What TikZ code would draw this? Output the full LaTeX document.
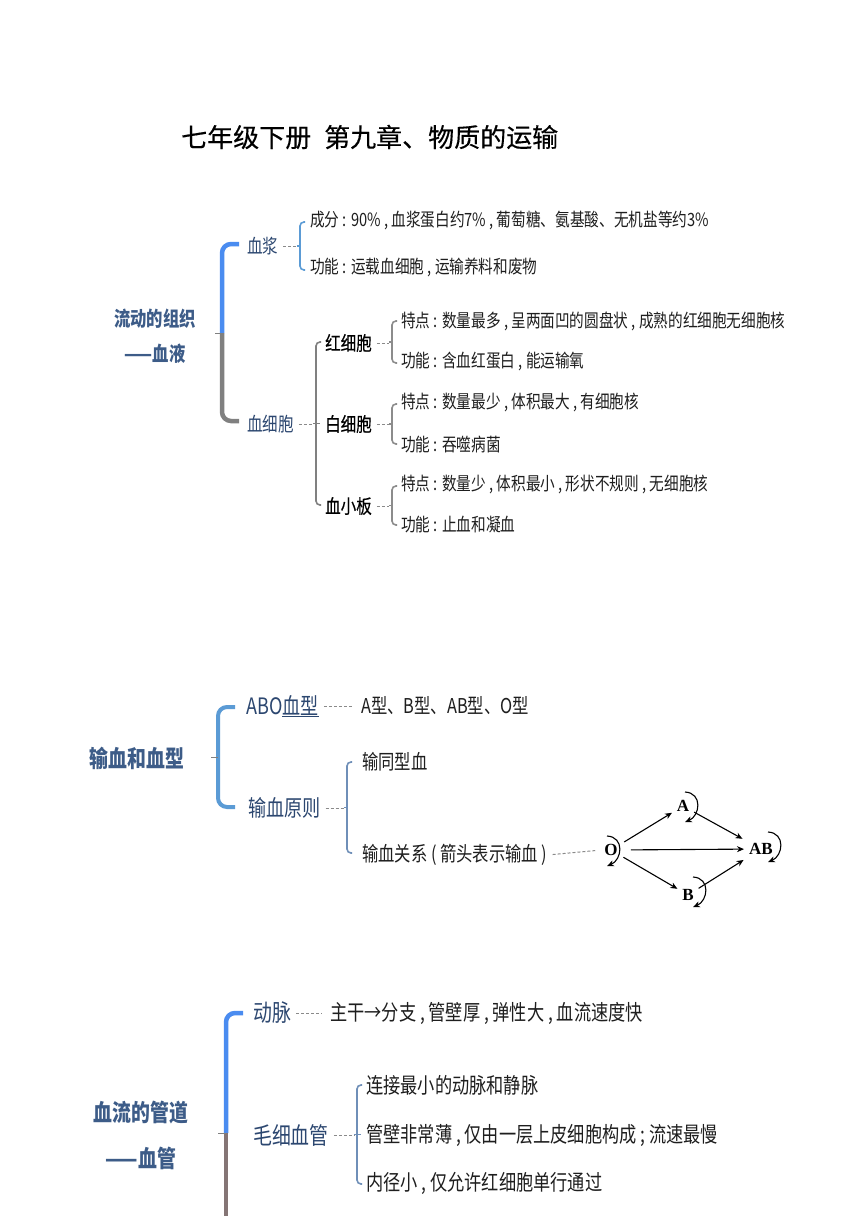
\documentclass[tikz,border=0pt]{standalone}
\usepackage{fontspec}
\usetikzlibrary{arrows.meta}
\newfontfamily\cjk[FakeStretch=0.8]{Noto Sans CJK SC}
\newfontfamily\cjkm[FakeStretch=0.8,FakeBold=0.4]{Noto Sans CJK SC}
\newfontfamily\cjkt[FakeBold=0.3]{Noto Sans CJK SC}
\newfontfamily\grf{Liberation Serif}
\newcommand\fs[1]{\fontsize{#1}{#1}\selectfont}
\definecolor{headc}{HTML}{3D5C88}
\definecolor{labc}{HTML}{2C4770}
\definecolor{bodyc}{HTML}{1E1E1E}
\definecolor{bigblue}{HTML}{4A8CF0}
\definecolor{biggray}{HTML}{808080}
\definecolor{bigbrown}{HTML}{857575}
\definecolor{brblue}{HTML}{5B9BD5}
\definecolor{brgray}{HTML}{8C8C8C}
\definecolor{brsteel}{HTML}{6F8FB8}
\definecolor{conngray}{HTML}{8A8A8A}
\newcommand\sbrace[5]{%
  \draw[#1, rounded corners=4pt] ({#2+5},{#3}) -- ({#2},{#3}) -- ({#2},{#4}) -- ({#2+5},{#4});
  \coordinate (#5) at ({#2},{(#3+#4)/2});
  \draw[#1] ([xshift=-3pt]#5) -- (#5);}
\newcommand\selfloop[3]{%
  \draw[arr] ([shift={(#2,#3)}]#1.center) .. controls ([shift={(#2+18,#3+1)}]#1.center) and ([shift={(#2+15,#3+24)}]#1.center) .. ([shift={(#2,#3+30)}]#1.center);}
\begin{document}
\begin{tikzpicture}[x=1pt,y=-1pt,
  title/.style={font=\cjkt\fs{26}, text=black, anchor=west, inner sep=0pt},
  head/.style={font=\cjk\bfseries\fs{#1}, text=headc, inner sep=0pt},
  head/.default=20.4,
  lab/.style={font=\cjk\fs{#1}, text=labc, anchor=west, inner sep=0pt},
  lab/.default=19.4,
  sub/.style={font=\cjkm\fs{19.4}, text=black, anchor=west, inner sep=0pt},
  body/.style={font=\cjk\fs{#1}, text=bodyc, anchor=west, inner sep=0pt},
  body/.default=18.3,
  bigbr/.style={line width=4.5pt, rounded corners=9pt},
  tick/.style={line width=1pt, color=biggray},
  thinbr/.style={line width=1.6pt},
  conn/.style={draw=conngray, line width=1pt, dash pattern=on 3pt off 2pt, shorten <=5pt},
  gnode/.style={font=\grf\bfseries\fs{17}, text=black, inner sep=3pt},
  arr/.style={draw=black, line width=1.1pt, -{Stealth[length=7pt,width=6pt]}}]
\useasboundingbox (0,0) rectangle (860,1216);
\fill[white] (0,0) rectangle (860,1216);

% ---------- title ----------
\node[title] (title) at (181,137) {七年级下册\hspace{0.5em}第九章、物质的运输};

% ---------- section 1 ----------
\node[head] (s1a) at (155,319) {流动的组织};
\node[head] (s1b) at (155,354) {——血液};
\coordinate (k1) at (222,333);
\draw[bigbr, bigblue] (239,244) -- (222,244) -- (k1);
\draw[bigbr, biggray] (k1) -- (222,421) -- (239,421);
\draw[tick] (215,333) -- (k1);

\node[lab] (xj) at (247,246) {血浆};
\node[lab] (xxb) at (247,424) {血细胞};

\sbrace{thinbr, brblue}{300}{222}{270}{bxj}
\draw[conn] (xj.east) -- ([xshift=-3pt]xj.east -| bxj);
\node[body] (xj1) at (310,221) {成分 : 90\% , 血浆蛋白约7\% , 葡萄糖、氨基酸、无机盐等约3\%};
\node[body] (xj2) at (310,267) {功能 : 运载血细胞 , 运输养料和废物};

\sbrace{thinbr, biggray}{316}{342}{505}{bxxb}
\draw[thinbr, biggray] (bxxb) -- ([xshift=4pt]bxxb);
\draw[conn] (xxb.east) -- ([xshift=-3pt]xxb.east -| bxxb);

\node[sub] (hxb) at (325,343) {红细胞};
\node[sub] (bxb) at (325,424) {白细胞};
\node[sub] (xxbn) at (325,506) {血小板};

\sbrace{thinbr, brgray}{392}{321}{363}{bhxb}
\draw[conn] (hxb.east) -- ([xshift=-3pt]hxb.east -| bhxb);
\node[body] (h1) at (401,321) {特点 : 数量最多 , 呈两面凹的圆盘状 , 成熟的红细胞无细胞核};
\node[body] (h2) at (401,362) {功能 : 含血红蛋白 , 能运输氧};

\sbrace{thinbr, brgray}{392}{404}{444}{bbxb}
\draw[conn] (bxb.east) -- ([xshift=-3pt]bxb.east -| bbxb);
\node[body] (w1) at (401,403) {特点 : 数量最少 , 体积最大 , 有细胞核};
\node[body] (w2) at (401,445) {功能 : 吞噬病菌};

\sbrace{thinbr, brgray}{392}{486}{525}{bxxbn}
\draw[conn] (xxbn.east) -- ([xshift=-3pt]xxbn.east -| bxxbn);
\node[body] (p1) at (401,485) {特点 : 数量少 , 体积最小 , 形状不规则 , 无细胞核};
\node[body] (p2) at (401,525) {功能 : 止血和凝血};

% ---------- section 2 ----------
\node[head=23.6] (s2) at (137,758) {输血和血型};
\coordinate (k2) at (218,757);
\draw[bigbr, line width=4pt, color=brblue] (235,707) -- (218,707) -- (218,807) -- (235,807);
\draw[tick] (211,757) -- (k2);

\node[lab=22.6] (abo) at (246,706) {ABO\underline{血型}};
\node[body=20.4] (abot) at (361,706) {A型、B型、AB型、O型};
\draw[conn, shorten >=8pt] (abo.east) -- (abot.west);

\node[lab=22.6] (sxyz) at (248,808) {输血原则};
\sbrace{thinbr, brsteel}{347}{762}{853}{bsx}
\draw[conn] (sxyz.east) -- ([xshift=-3pt]sxyz.east -| bsx);
\node[body=20.4] (txx) at (362,762) {输同型血};
\node[body=20.4] (sxgx) at (362,855) {输血关系 ( 箭头表示输血 )};

\node[gnode] (O) at (611,850) {O};
\node[gnode] (A) at (683,806) {A};
\node[gnode] (B) at (688,895) {B};
\node[gnode] (AB) at (761,849) {AB};
\draw[conn, shorten >=6pt] (sxgx.east) -- (O.west);
\draw[arr, shorten <=4pt, shorten >=2pt] (O) -- (A);
\draw[arr, shorten <=2pt, shorten >=4pt] (A) -- (AB);
\draw[arr, shorten <=10pt, shorten >=2pt] (O) -- (AB);
\draw[arr, shorten <=3pt, shorten >=2pt] (O) -- (B);
\draw[arr, shorten <=2pt, shorten >=4pt] (B) -- (AB);
\selfloop{O}{-4}{-14}
\selfloop{A}{2}{-14}
\selfloop{B}{5}{-18}
\selfloop{AB}{7}{-17}

% ---------- section 3 ----------
\node[head=23.6] (s3a) at (141,1113) {血流的管道};
\node[head=23.6] (s3b) at (141,1158) {——血管};
\coordinate (k3) at (226,1133);
\draw[bigbr, bigblue] (243,1013) -- (226,1013) -- (k3);
\draw[line width=4.5pt, bigbrown] (k3) -- (226,1220);
\draw[tick] (218,1133) -- (k3);

\node[lab=23.6] (dm) at (253,1013) {动脉};
\node[body=21.5] (dmt) at (330,1013) {主干→分支 , 管壁厚 , 弹性大 , 血流速度快};
\draw[conn, shorten >=8pt] (dm.east) -- (dmt.west);

\node[lab=23.6] (mxxg) at (253,1135) {毛细血管};
\sbrace{thinbr, brsteel}{357}{1085}{1184}{bmx}
\draw[thinbr, brsteel] (bmx) -- ([xshift=4pt]bmx);
\draw[conn] (mxxg.east) -- ([xshift=-3pt]mxxg.east -| bmx);
\node[body=21.5] (m1) at (366,1085) {连接最小的动脉和静脉};
\node[body=21.5] (m2) at (366,1135) {管壁非常薄 , 仅由一层上皮细胞构成 ; 流速最慢};
\node[body=21.5] (m3) at (366,1183) {内径小 , 仅允许红细胞单行通过};
\end{tikzpicture}
\end{document}
